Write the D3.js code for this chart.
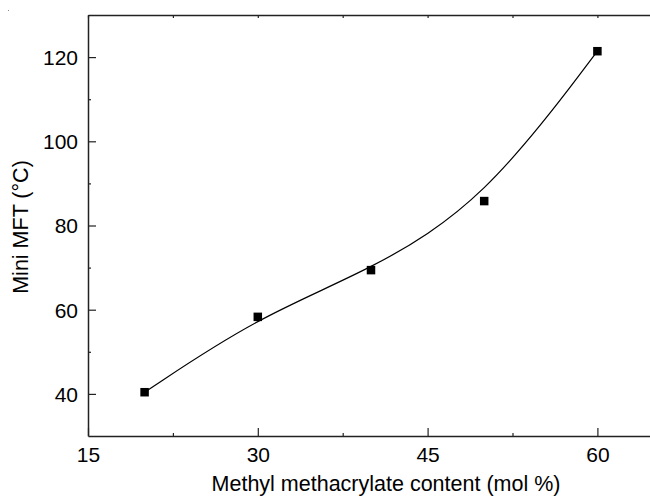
<!DOCTYPE html>
<html>
<head>
<meta charset="utf-8">
<script src="https://cdn.jsdelivr.net/npm/d3@7"></script>
<style>
  body { margin: 0; background: #fff; }
  svg { display: block; font-family: "Liberation Sans", Arial, sans-serif; }
</style>
</head>
<body>
<div id="container"></div>
<script>
const width = 650;
const height = 497;
const marginTop = 15;
const marginLeft = 88;
const plotRight = 654;
const plotBottom = 436;

// data
const mmaContent = [20, 30, 40, 50, 60];
const miniMFT = [40.4, 58.3, 69.4, 85.8, 121.4];
const xTicks = [15, 30, 45, 60];
const yTicks = [40, 60, 80, 100, 120];
const xMinor = [22.5, 37.5, 52.5];
const yMinor = [50, 70, 90, 110];

const svg = d3.select("#container")
  .append("svg")
  .attr("width", width)
  .attr("height", height);

const x = d3.scaleLinear().domain([15, 65]).range([marginLeft, plotRight]);
const y = d3.scaleLinear().domain([30, 130]).range([plotBottom, marginTop]);

const axisColor = "#222";
const fontSize = "21px";

// bottom axis
const gx = svg.append("g").attr("transform", `translate(0,${plotBottom})`);
gx.call(d3.axisBottom(x).tickValues(xTicks).tickSizeInner(-8).tickSizeOuter(0).tickPadding(11));
const gxm = svg.append("g").attr("transform", `translate(0,${plotBottom})`);
gxm.call(d3.axisBottom(x).tickValues(xMinor).tickSizeInner(-3).tickSizeOuter(0).tickFormat(""));
gxm.select(".domain").remove();

// top axis
const gt = svg.append("g").attr("transform", `translate(0,${marginTop})`);
gt.call(d3.axisTop(x).tickValues(xTicks.concat(xMinor)).tickSizeInner(-3).tickSizeOuter(0).tickFormat(""));

// left axis
const gy = svg.append("g").attr("transform", `translate(${marginLeft},0)`);
gy.call(d3.axisLeft(y).tickValues(yTicks).tickSizeInner(-8).tickSizeOuter(0).tickPadding(10));
const gym = svg.append("g").attr("transform", `translate(${marginLeft},0)`);
gym.call(d3.axisLeft(y).tickValues(yMinor).tickSizeInner(-3).tickSizeOuter(0).tickFormat(""));
gym.select(".domain").remove();

svg.selectAll(".domain").attr("stroke", axisColor).attr("stroke-width", 1.5);
svg.selectAll(".tick line").attr("stroke", axisColor).attr("stroke-width", 1.2);
svg.selectAll(".tick text")
  .attr("fill", "#000")
  .style("font-size", fontSize)
  .style("font-family", "Liberation Sans, Arial, sans-serif");
gy.selectAll(".tick text").attr("dy", "0.35em");

// smooth curve
const line = d3.line()
  .x((d, i) => x(mmaContent[i]))
  .y(d => y(d))
  .curve(d3.curveBasis);

svg.append("path")
  .datum(miniMFT)
  .attr("fill", "none")
  .attr("stroke", "#000")
  .attr("stroke-width", 1.2)
  .attr("d", line);

// markers
const size = 8.5;
svg.selectAll("rect.pt")
  .data(miniMFT)
  .enter()
  .append("rect")
  .attr("class", "pt")
  .attr("x", (d, i) => x(mmaContent[i]) - size / 2)
  .attr("y", d => y(d) - size / 2)
  .attr("width", size)
  .attr("height", size)
  .attr("fill", "#000");

// axis titles
svg.append("text")
  .attr("x", 386)
  .attr("y", 491)
  .attr("text-anchor", "middle")
  .style("font-size", "21.5px")
  .text("Methyl methacrylate content (mol %)");

svg.append("text")
  .attr("transform", `translate(27.5,227) rotate(-90)`)
  .attr("text-anchor", "middle")
  .style("font-size", "21.5px")
  .text("Mini MFT (°C)");

// tiny speck in the top-left corner
svg.append("rect").attr("x", 8).attr("y", 10).attr("width", 1).attr("height", 1).attr("fill", "#888");
</script>
</body>
</html>
